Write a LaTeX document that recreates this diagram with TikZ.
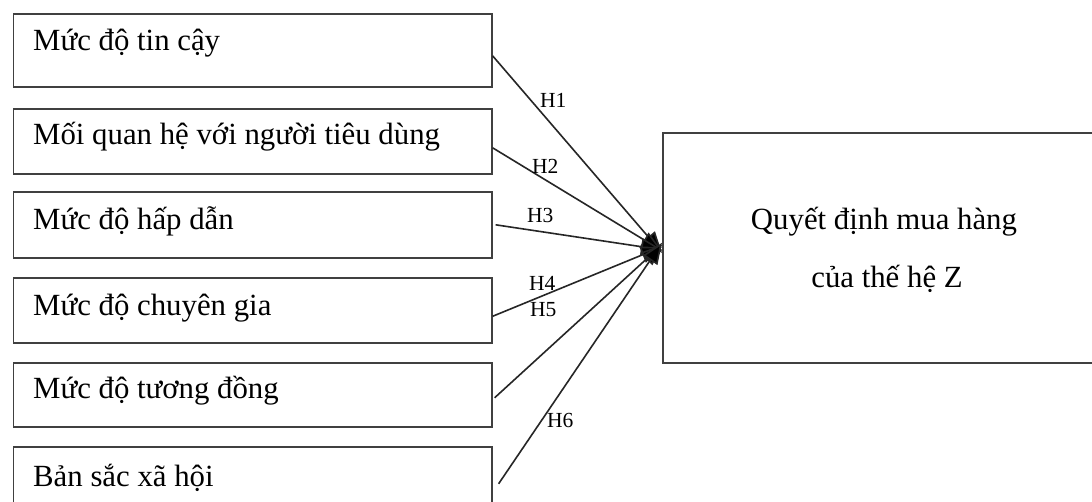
\documentclass[tikz,border=0pt]{standalone}
\usepackage{fontspec}
\setmainfont{Liberation Serif}
\usetikzlibrary{arrows.meta}

\tikzset{
  factor/.style={draw=black!75, line width=1.6pt, rectangle, inner sep=0pt,
    anchor=north west, minimum width=478.5pt},
  outcome/.style={draw=black!75, line width=1.6pt, rectangle, inner sep=0pt,
    anchor=north west, minimum width=440pt, minimum height=230pt},
  boxtext/.style={anchor=base west, inner sep=0pt,
    font=\fontsize{30.8}{36}\selectfont},
  maintext/.style={anchor=base, inner sep=0pt,
    font=\fontsize{30.8}{36}\selectfont},
  hyp/.style={anchor=base west, inner sep=0pt,
    font=\fontsize{21.5}{26}\selectfont},
  link/.style={draw=black!85, line width=1.6pt,
    -{Triangle[length=21pt,width=17pt,fill=black]}}
}

\begin{document}
\begin{tikzpicture}[x=1pt,y=-1pt]
  \clip (0,0) rectangle (1092,502);
  \fill[white] (0,0) rectangle (1092,502);

  % independent variables
  \node[factor, minimum height=73pt] (b1) at (12.5,13) {};
  \node[factor, minimum height=65pt] (b2) at (12.5,108) {};
  \node[factor, minimum height=66pt] (b3) at (12.5,191) {};
  \node[factor, minimum height=65pt] (b4) at (12.5,277) {};
  \node[factor, minimum height=64pt] (b5) at (12.5,362) {};
  \node[factor, minimum height=70pt] (b6) at (12.5,446) {};

  \node[boxtext] (t1) at (33,51)  {Mức độ tin cậy};
  \node[boxtext] (t2) at (33,145) {Mối quan hệ với người tiêu dùng};
  \node[boxtext] (t3) at (33,230) {Mức độ hấp dẫn};
  \node[boxtext] (t4) at (33,316) {Mức độ chuyên gia};
  \node[boxtext] (t5) at (33,398) {Mức độ tương đồng};
  \node[boxtext] (t6) at (33,486) {Bản sắc xã hội};

  % dependent variable
  \node[outcome] (q) at (662,132) {};
  \node[maintext] (q1) at (884,230) {Quyết định mua hàng};
  \node[maintext] (q2) at (887,288) {của thế hệ Z};

  % hypothesised paths
  \draw[link] ([yshift=-5.5pt]b1.east) -- ([yshift=-5pt]q.west);
  \draw[link] ([yshift=-6.5pt]b2.east) -- ([yshift=-3pt]q.west);
  \draw[link] ([xshift=3pt]b3.east) -- ([yshift=-2pt]q.west);
  \draw[link] ([yshift=-6pt]b4.east) -- ([yshift=1pt]q.west);
  \draw[link] ([xshift=2pt,yshift=-3pt]b5.east) -- ([yshift=3pt]q.west);
  \draw[link] ([xshift=6pt,yshift=-2pt]b6.east) -- ([yshift=5pt]q.west);

  \node[hyp] (h1) at (540,108) {H1};
  \node[hyp] (h2) at (532,174) {H2};
  \node[hyp] (h3) at (527,223) {H3};
  \node[hyp] (h4) at (529,291) {H4};
  \node[hyp] (h5) at (530,317) {H5};
  \node[hyp] (h6) at (547,427) {H6};
\end{tikzpicture}
\end{document}
